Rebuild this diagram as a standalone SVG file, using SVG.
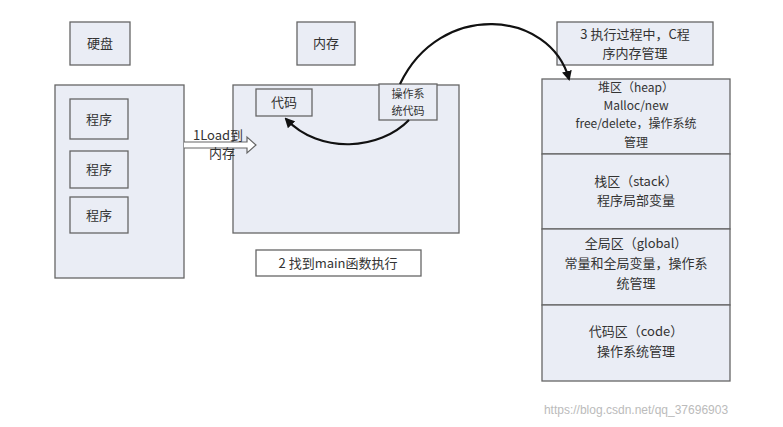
<svg xmlns="http://www.w3.org/2000/svg" width="783" height="427" viewBox="0 0 783 427">
<style>
.b{fill:#eaedf5;stroke:#666;stroke-width:1.3}
.w{fill:#fff;stroke:#666;stroke-width:1.3}
text{font-family:"Noto Sans CJK SC","Liberation Serif",serif;font-size:13px;fill:#333;text-anchor:middle}
.s{font-size:12px}
.xs{font-size:11px}
.wm{font-family:"Liberation Sans",sans-serif;font-size:12px;fill:#bbb}
.c{fill:none;stroke:#111;stroke-width:2.2}
</style>
<defs><marker id="ah" markerWidth="10" markerHeight="10" refX="8" refY="5" orient="auto" markerUnits="userSpaceOnUse"><path d="M0,0L10,5L0,10z" fill="#111"/></marker></defs>
<rect width="783" height="427" fill="#fff"/>
<g id="disk-label"><rect class="b" x="70" y="22" width="60" height="43"/><text x="100" y="48">硬盘</text></g>
<g id="disk"><rect class="b" x="55" y="85" width="129" height="193"/>
<rect class="b" x="70" y="99" width="58" height="40"/><text x="99" y="124">程序</text>
<rect class="b" x="70" y="151" width="58" height="37"/><text x="99" y="174">程序</text>
<rect class="b" x="70" y="197" width="58" height="36"/><text x="99" y="220">程序</text></g>
<g id="mem-label"><rect class="b" x="297" y="22" width="58" height="43"/><text x="326" y="48">内存</text></g>
<g id="mem"><rect class="b" x="233" y="85" width="226" height="148"/>
<rect class="b" x="256" y="89" width="56" height="27"/><text x="284" y="107">代码</text>
<rect class="b" x="379" y="84" width="58" height="36"/><text class="xs" x="408" y="98">操作系</text><text class="xs" x="408" y="115">统代码</text></g>
<g id="main"><rect class="w" x="256" y="250" width="165" height="26"/><text x="338" y="268">2 找到main函数执行</text></g>
<g id="step3"><rect class="b" x="557" y="22" width="156" height="43"/><text x="635" y="39">3 执行过程中，C程</text><text x="635" y="58">序内存管理</text></g>
<g id="heap"><rect class="b" x="542" y="79" width="188" height="75"/><text class="s" x="636" y="92">堆区（heap）</text><text class="s" x="636" y="110">Malloc/new</text><text class="s" x="636" y="128">free/delete，操作系统</text><text class="s" x="636" y="147">管理</text></g>
<g id="stack"><rect class="b" x="542" y="154" width="188" height="75"/><text x="636" y="186">栈区（stack）</text><text x="636" y="205">程序局部变量</text></g>
<g id="global"><rect class="b" x="542" y="229" width="188" height="76"/><text x="636" y="248">全局区（global）</text><text x="636" y="268">常量和全局变量，操作系</text><text x="636" y="288">统管理</text></g>
<g id="code"><rect class="b" x="542" y="305" width="188" height="76"/><text x="636" y="336">代码区（code）</text><text x="636" y="356">操作系统管理</text></g>
<g id="connectors">
<path d="M184,142H247V137L256,145L247,153V148H184" fill="#fff" stroke="#666" stroke-width="1.2"/>
<path class="c" d="M409,120C380,150 320,155 286,119" marker-end="url(#ah)"/>
<path class="c" d="M400,84C440,0 550,10 569,79" marker-end="url(#ah)"/>
</g>
<text x="218" y="140">1Load到</text><text x="222" y="158">内存</text>
<text class="wm" x="636" y="414">https://blog.csdn.net/qq_37696903</text>
</svg>
